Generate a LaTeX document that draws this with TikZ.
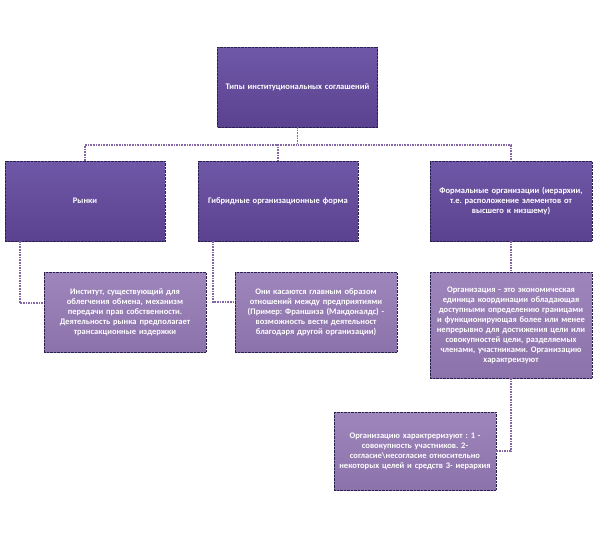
\documentclass[tikz,border=0pt]{standalone}
\usepackage{fontspec}
\setmainfont{Carlito}
\frenchspacing
\definecolor{darkbox}{HTML}{5A4290}
\definecolor{darkboxtop}{HTML}{7058A8}
\definecolor{lightbox}{HTML}{8C72AA}
\definecolor{lightboxtop}{HTML}{9E86BC}
\definecolor{linkcol}{HTML}{8466A6}
\definecolor{rimcol}{HTML}{2A2050}

\begin{document}
\begin{tikzpicture}[
        x=1pt,
        y=-1pt,
        every node/.style={font=\bfseries\fontsize{8.5}{10}\selectfont, text=white},
        topbox/.style={
            draw=rimcol,
            densely dotted,
            top color=darkboxtop,
            bottom color=darkbox,
            minimum width=160pt,
            minimum height=80pt,
            text width=158pt,
            inner sep=1pt,
            align=center
        },
        lowbox/.style={
            draw=rimcol,
            densely dotted,
            top color=lightboxtop,
            bottom color=lightbox,
            minimum width=162pt,
            minimum height=80pt,
            text width=160pt,
            inner sep=1pt,
            align=center
        },
        conn/.style={
            draw=linkcol,
            line width=1.6pt,
            densely dotted
        }
    ]
        \useasboundingbox (0,0) rectangle (596,539);

        % Row 1: the root
        \node[topbox] (tipy) at (297.5,87)
            {Типы институциональных соглашений};

        % Row 2: three kinds
        \node[topbox] (rynki) at (85,201) {Рынки};
        \node[topbox] (gibrid) at (278,201)
            {Гибридные организационные форма};
        \node[topbox, minimum width=162pt, text width=160pt] (formal) at (511,201)
            {Формальные организации (иерархии,\\ т.е. расположение элементов от\\ высшего к низшему)};

        % Row 3: explanations
        \node[lowbox, minimum width=160pt] (institut) at (125,312)
            {Институт, существующий для\\ облегчения обмена, механизм\\ передачи прав собственности.\\ Деятельность рынка предполагает\\ трансакционные издержки};
        \node[lowbox] (oni) at (316,312)
            {Они касаются главным образом\\ отношений между предприятиями\\ (Пример: Франшиза (Макдоналдс) -\\ возможность вести деятельност\\ благодаря другой организации)};
        \node[lowbox, minimum height=106pt] (organiz) at (511,325)
            {Организация - это экономическая\\ единица координации обладающая\\ доступными определению границами\\ и функционирующая более или менее\\ непрерывно для достижения цели или\\ совокупностей цели, разделяемых\\ членами, участниками. Организацию\\ характреизуют};

        % Row 4
        \node[lowbox, minimum width=160pt, minimum height=78pt] (harakter) at (415,451)
            {Организацию характреризуют : 1 -\\ совокупность участников. 2-\\ согласие\textbackslash несогласие относительно\\ некоторых целей и средств 3- иерархия};

        % connectors
        \draw[conn] (tipy.south) -- ++(0,18) -| (rynki.north);
        \draw[conn] (tipy.south) -- ++(0,18) -| (gibrid.north);
        \draw[conn] (tipy.south) -- ++(0,18) -| (formal.north);
        \draw[conn] (rynki.south west) ++(15,0) |- ([yshift=9pt]institut.west);
        \draw[conn] (gibrid.south west) ++(15,0) |- ([yshift=10pt]oni.west);
        \draw[conn] (formal.south) -- (organiz.north);
        \draw[conn] (organiz.south) |- (harakter.east);

    \end{tikzpicture}
\end{document}
